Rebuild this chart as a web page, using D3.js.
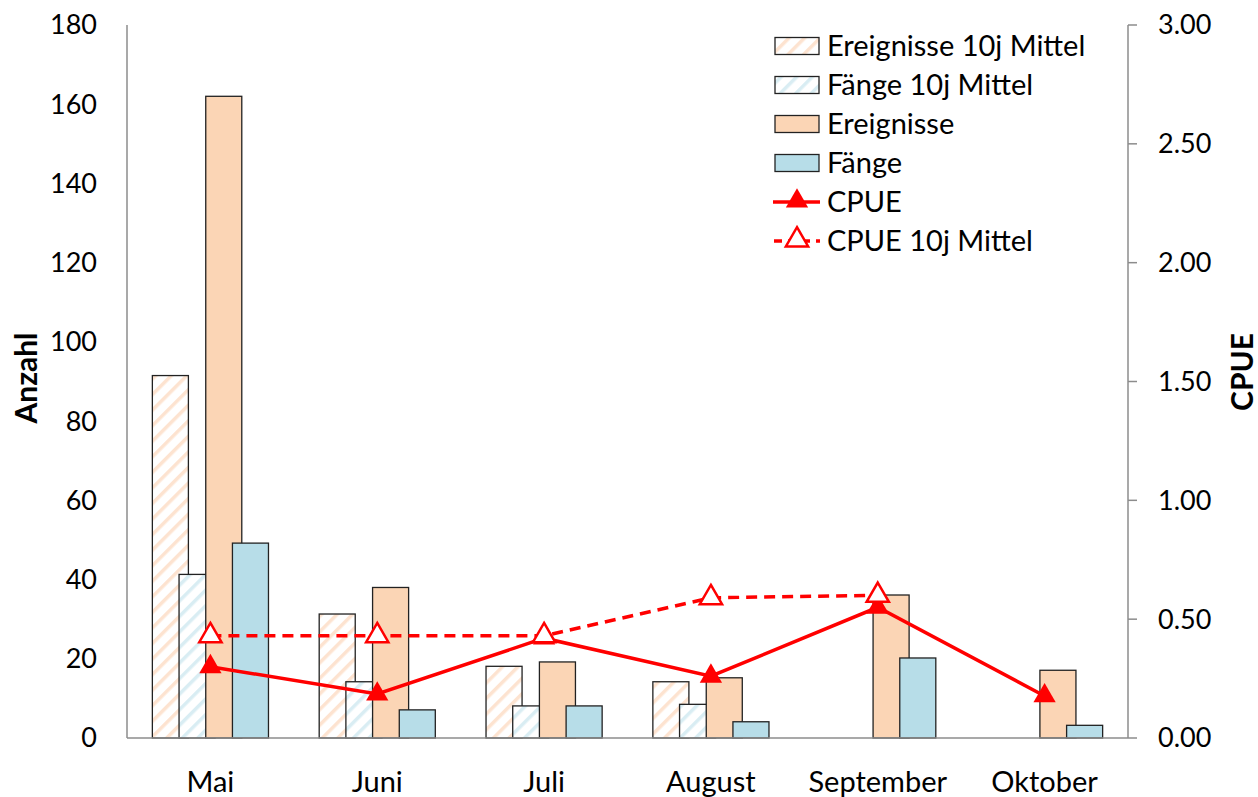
<!DOCTYPE html>
<html>
<head>
<meta charset="utf-8">
<script src="https://cdn.jsdelivr.net/npm/d3@7"></script>
<style>
  body { margin: 0; background: #fff; }
  svg text { font-family: Lato, "Open Sans", sans-serif; fill: #000; }
</style>
</head>
<body>
<div id="chart-container"></div>
<script>
// Monthly values
const months = ["Mai", "Juni", "Juli", "August", "September", "Oktober"];
const ereignisse10j = [91.5, 31.3, 18.1, 14.2, null, null];
const faenge10j = [41.3, 14.2, 8.1, 8.5, null, null];
const ereignisse = [162, 38, 19.2, 15.2, 36.1, 17.1];
const faenge = [49.2, 7.1, 8.1, 4.1, 20.2, 3.2];
const cpue = [0.30, 0.185, 0.42, 0.26, 0.55, 0.177];
const cpue10j = [0.43, 0.43, 0.43, 0.59, 0.60, null];

const leftTicks = [0, 20, 40, 60, 80, 100, 120, 140, 160, 180];
const rightTicks = [0, 0.5, 1, 1.5, 2, 2.5, 3];

const width = 1258, height = 797;
const margin = { top: 25, right: 130, bottom: 59, left: 127 };

const svg = d3.select("#chart-container")
    .append("svg")
    .attr("width", width)
    .attr("height", height);

const defs = svg.append("defs");
function hatch(id, color) {
    const p = defs.append("pattern")
        .attr("id", id)
        .attr("patternUnits", "userSpaceOnUse")
        .attr("width", 11).attr("height", 11)
        .attr("patternTransform", "rotate(45)");
    p.append("rect").attr("width", 11).attr("height", 11).attr("fill", "#fff");
    p.append("rect").attr("x", 0).attr("width", 3.5).attr("height", 11).attr("fill", color);
}
hatch("hatchOrange", "#fde3d0");
hatch("hatchBlue", "#d9edf3");

const x = d3.scaleBand()
    .domain(months)
    .range([margin.left, width - margin.right]);

const y = d3.scaleLinear().domain([0, 180]).range([height - margin.bottom, margin.top]);
const y2 = d3.scaleLinear().domain([0, 3]).range([height - margin.bottom, margin.top]);

// bar series in drawing order
const series = [
    { name: "Ereignisse 10j Mittel", values: ereignisse10j, fill: "url(#hatchOrange)" },
    { name: "Fänge 10j Mittel", values: faenge10j, fill: "url(#hatchBlue)" },
    { name: "Ereignisse", values: ereignisse, fill: "#fbd5b5" },
    { name: "Fänge", values: faenge, fill: "#b7dde8" }
];

const bw = x.bandwidth();
const barW = bw * 0.216;
const step = bw * 0.16;
const groupW = step * (series.length - 1) + barW;

series.forEach((s, i) => {
    svg.append("g")
        .selectAll("rect")
        .data(months.map((m, j) => ({ m, v: s.values[j] })).filter(d => d.v != null))
        .join("rect")
        .attr("x", d => x(d.m) + (bw - groupW) / 2 + i * step)
        .attr("y", d => y(d.v))
        .attr("width", barW)
        .attr("height", d => y(0) - y(d.v))
        .attr("fill", s.fill)
        .attr("stroke", "#222")
        .attr("stroke-width", 1.3);
});

// axes
const axisColor = "#8c8c8c";
svg.append("line")
    .attr("x1", margin.left).attr("x2", width - margin.right)
    .attr("y1", y(0)).attr("y2", y(0))
    .attr("stroke", axisColor).attr("stroke-width", 1.5);

svg.append("line")
    .attr("x1", margin.left).attr("x2", margin.left)
    .attr("y1", y(0)).attr("y2", y(180))
    .attr("stroke", axisColor).attr("stroke-width", 1.5);

const rx = width - margin.right;
svg.append("line")
    .attr("x1", rx).attr("x2", rx)
    .attr("y1", y2(0)).attr("y2", y2(3))
    .attr("stroke", axisColor).attr("stroke-width", 1.5);

svg.append("g")
    .selectAll("line")
    .data(rightTicks)
    .join("line")
    .attr("x1", rx).attr("x2", rx + 9)
    .attr("y1", d => y2(d)).attr("y2", d => y2(d))
    .attr("stroke", axisColor).attr("stroke-width", 1.5);

svg.append("g")
    .selectAll("text")
    .data(leftTicks)
    .join("text")
    .attr("x", 97)
    .attr("y", d => y(d))
    .attr("dy", "0.35em")
    .attr("text-anchor", "end")
    .style("font-size", "27px")
    .text(d => d);

svg.append("g")
    .selectAll("text")
    .data(rightTicks)
    .join("text")
    .attr("x", 1158)
    .attr("y", d => y2(d))
    .attr("dy", "0.35em")
    .style("font-size", "27px")
    .text(d => d.toFixed(2));

svg.append("g")
    .selectAll("text")
    .data(months)
    .join("text")
    .attr("x", d => x(d) + bw / 2)
    .attr("y", 782)
    .attr("dy", "0.35em")
    .attr("text-anchor", "middle")
    .style("font-size", "29px")
    .text(d => d);

svg.append("text")
    .attr("transform", `translate(26, 378) rotate(-90)`)
    .attr("text-anchor", "middle")
    .attr("dy", "0.35em")
    .style("font-size", "30px")
    .style("font-weight", "bold")
    .text("Anzahl");

svg.append("text")
    .attr("transform", `translate(1242, 372) rotate(-90)`)
    .attr("text-anchor", "middle")
    .attr("dy", "0.35em")
    .style("font-size", "30px")
    .style("font-weight", "bold")
    .text("CPUE");

// lines
const tri = d3.symbol().type(d3.symbolTriangle).size(215);
const line = d3.line()
    .defined(d => d.v != null)
    .x(d => x(d.m) + bw / 2)
    .y(d => y2(d.v));

const cpueData = months.map((m, j) => ({ m, v: cpue[j] }));
const cpue10Data = months.map((m, j) => ({ m, v: cpue10j[j] }));

svg.append("path")
    .datum(cpueData)
    .attr("d", line)
    .attr("fill", "none")
    .attr("stroke", "#ff0000")
    .attr("stroke-width", 3.5);

svg.append("g")
    .selectAll("path")
    .data(cpueData)
    .join("path")
    .attr("transform", d => `translate(${x(d.m) + bw / 2},${y2(d.v)})`)
    .attr("d", tri)
    .attr("fill", "#ff0000");

svg.append("path")
    .datum(cpue10Data)
    .attr("d", line)
    .attr("fill", "none")
    .attr("stroke", "#ff0000")
    .attr("stroke-width", 3.5)
    .attr("stroke-dasharray", "11,7");

svg.append("g")
    .selectAll("path")
    .data(cpue10Data.filter(d => d.v != null))
    .join("path")
    .attr("transform", d => `translate(${x(d.m) + bw / 2},${y2(d.v)})`)
    .attr("d", tri)
    .attr("fill", "#fff")
    .attr("stroke", "#ff0000")
    .attr("stroke-width", 2.5);

// legend
const legendItems = [
    { name: "Ereignisse 10j Mittel", type: "bar", fill: "url(#hatchOrange)" },
    { name: "Fänge 10j Mittel", type: "bar", fill: "url(#hatchBlue)" },
    { name: "Ereignisse", type: "bar", fill: "#fbd5b5" },
    { name: "Fänge", type: "bar", fill: "#b7dde8" },
    { name: "CPUE", type: "line", dash: null, fill: "#ff0000" },
    { name: "CPUE 10j Mittel", type: "line", dash: "8,6", fill: "#fff" }
];

const legend = svg.append("g");
legendItems.forEach((it, i) => {
    const ly = 46 + i * 39;
    const g = legend.append("g");
    if (it.type === "bar") {
        g.append("rect")
            .attr("x", 775).attr("y", ly - 8.5)
            .attr("width", 44).attr("height", 17)
            .attr("fill", it.fill)
            .attr("stroke", "#222")
            .attr("stroke-width", 1.3);
    } else {
        g.append("line")
            .attr("x1", it.dash ? 774 : 773).attr("x2", 820)
            .attr("y1", ly).attr("y2", ly)
            .attr("stroke", "#ff0000")
            .attr("stroke-width", 3.5)
            .attr("stroke-dasharray", it.dash);
        g.append("path")
            .attr("transform", `translate(797,${ly - 1})`)
            .attr("d", tri)
            .attr("fill", it.fill)
            .attr("stroke", "#ff0000")
            .attr("stroke-width", it.dash ? 2.5 : 0);
    }
    g.append("text")
        .attr("x", 827).attr("y", ly)
        .attr("dy", "0.35em")
        .style("font-size", "29px")
        .text(it.name);
});
</script>
</body>
</html>
